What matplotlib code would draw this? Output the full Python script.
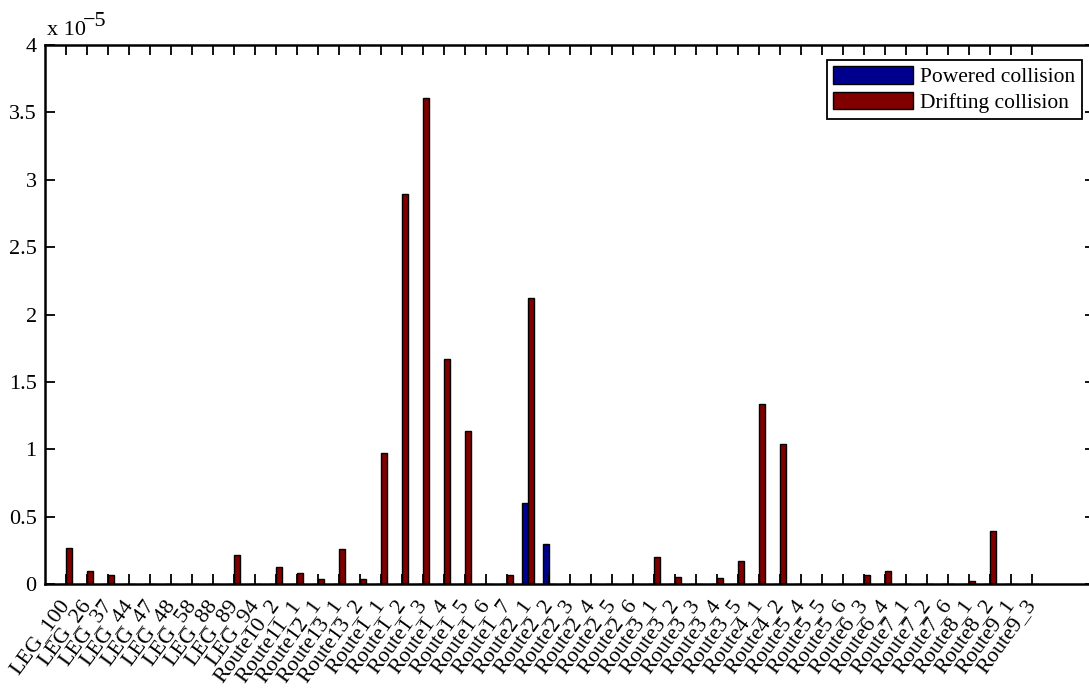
import matplotlib
matplotlib.use("Agg")
import matplotlib.pyplot as plt
import numpy as np

# route / leg names along the x axis
labels = ["LEG_100", "LEG_26", "LEG_37", "LEG_44", "LEG_47", "LEG_48", "LEG_58",
          "LEG_88", "LEG_89", "LEG_94", "Route10_2", "Route11_1", "Route12_1",
          "Route13_1", "Route13_2", "Route1_1", "Route1_2", "Route1_3", "Route1_4",
          "Route1_5", "Route1_6", "Route1_7", "Route2_1", "Route2_2", "Route2_3",
          "Route2_4", "Route2_5", "Route2_6", "Route3_1", "Route3_2", "Route3_3",
          "Route3_4", "Route3_5", "Route4_1", "Route4_2", "Route5_4", "Route5_5",
          "Route5_6", "Route6_3", "Route6_4", "Route7_1", "Route7_2", "Route7_6",
          "Route8_1", "Route8_2", "Route9_1", "Route9_3"]

# collision frequencies, in units of 1e-5
powered = [0, 0, 0, 0, 0, 0, 0, 0, 0, 0, 0, 0, 0, 0, 0,
           0, 0, 0, 0, 0, 0, 0, 0.60, 0.297, 0, 0, 0, 0,
           0, 0, 0, 0, 0, 0, 0, 0, 0, 0, 0, 0, 0, 0, 0, 0, 0, 0, 0]
drifting = [0.27, 0.095, 0.07, 0, 0, 0, 0, 0, 0.215, 0, 0.125, 0.085, 0.035,
            0.26, 0.035, 0.975, 2.894, 3.607, 1.67, 1.135, 0, 0.07, 2.12, 0,
            0, 0, 0, 0, 0.20, 0.05, 0, 0.045, 0.17, 1.336, 1.039, 0, 0, 0,
            0.065, 0.10, 0, 0, 0, 0.02, 0.39, 0, 0]

plt.rcParams["font.family"] = ["Liberation Serif", "DejaVu Serif"]

fig = plt.figure(figsize=(10.89, 6.88), dpi=100)
# axes run past the right edge of the figure, like the cropped original
ax = fig.add_axes([45 / 1089, 104 / 688, 1050 / 1089, 539 / 688])

x = np.arange(1, len(labels) + 1)
w = 0.26
ax.bar(x - 0.14, powered, w, color="#00008f", edgecolor="black",
       linewidth=1, label="Powered collision")
ax.bar(x + 0.14, drifting, w, color="#800000", edgecolor="black",
       linewidth=1, label="Drifting collision")

ax.set_xlim(0, 50)
ax.set_ylim(0, 4)
yt = np.arange(0, 4.01, 0.5)
ax.set_yticks(yt)
ax.set_yticklabels(["%g" % v for v in yt], fontsize=16)
ax.set_xticks(x)
ax.set_xticklabels(labels, rotation=54, ha="right", va="center",
                   rotation_mode="anchor", fontsize=16)
ax.tick_params(axis="x", pad=13)
ax.tick_params(direction="in", length=7, width=1.3, top=True, right=True)
ax.tick_params(axis="y", pad=6)
for s in ax.spines.values():
    s.set_linewidth(1.8)

# exponent label above the y axis
fig.text(47 / 1089, 1 - 35 / 688, "x 10", fontsize=16, va="baseline")
fig.text(83 / 1089, 1 - 26 / 688, "\u22125", fontsize=16, va="baseline")

leg = ax.legend(loc="upper right", bbox_to_anchor=(1082 / 1089, 1 - 60 / 688),
                bbox_transform=fig.transFigure, fontsize=15.5, fancybox=False,
                framealpha=1, edgecolor="black", handlelength=3.7,
                handleheight=0.85, borderpad=0.3, labelspacing=0.2,
                handletextpad=0.35, borderaxespad=0)
leg.get_frame().set_linewidth(1.3)

fig.savefig("out.png", dpi=100)
